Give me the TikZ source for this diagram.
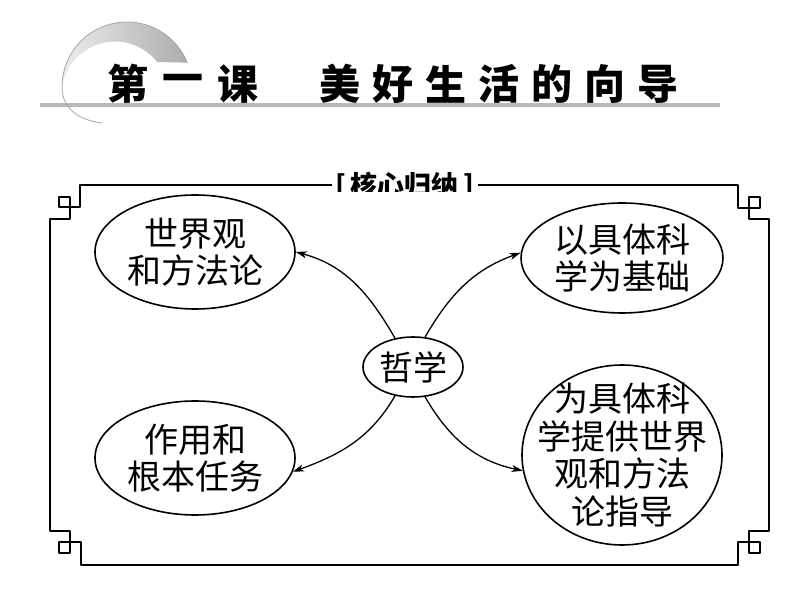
\documentclass[tikz,border=0pt]{standalone}
\usepackage{fontspec}
\setmainfont{Noto Sans CJK SC}
\usepackage{tikz}
\usetikzlibrary{arrows.meta,shapes.geometric}

\tikzset{
  bub/.style={draw,line width=1.6pt,ellipse,inner sep=0pt,align=center,
    font=\fontsize{34}{37.5}\selectfont},
  link/.style={->,line width=1.3pt},
}

\begin{document}
\begin{tikzpicture}[line cap=round,line join=round,>={Stealth[length=11pt,width=7pt,inset=3pt]},x=1pt,y=1pt]
\useasboundingbox (0,0) rectangle (800,600);

% header
\fill[gray!55] (40,493) rectangle (720,497);
\shade[left color=gray!15,right color=gray!65]
  ([shift={(127,513)}]22:65) arc[start angle=22,end angle=180,radius=65]
  -- ([shift={(115,505)}]171.4:53.5) arc[start angle=171.4,end angle=38,radius=53.5] -- cycle;
\draw[gray!70,line width=0.8pt] ([shift={(127,513)}]22:65) arc[start angle=22,end angle=180,radius=65]
  .. controls (62,492) and (78,480) .. (102,477);
\foreach \c/\x in {第/128,一/183,课/238,美/340,好/393,生/446,活/499,的/552,向/605,导/658}
  \node[font=\fontsize{41}{41}\selectfont\bfseries] at (\x,516) {\c};

% frame
\draw[line width=1.2pt] (50,381) -- (70,381) -- (70,403) -- (59,403) -- (59,393) -- (80,393) -- (80,415)
  -- (738,415) -- (738,392) -- (760,392) -- (760,403) -- (749,403) -- (749,381) -- (769,381)
  -- (769,69) -- (749,69) -- (749,47) -- (760,47) -- (760,58) -- (738,58) -- (738,35)
  -- (81,35) -- (81,58) -- (59,58) -- (59,47) -- (70,47) -- (70,69) -- (50,69) -- cycle;
\begin{scope}
\clip (300,408) rectangle (510,440);
\node[fill=white,inner xsep=4pt,font=\fontsize{27}{27}\selectfont\bfseries] (hxgn) at (405,414) {[\,核心归纳\,]};
\end{scope}

% bubbles
\node[bub,minimum width=100pt,minimum height=60pt] (zx) at (413,233) {哲学};
\node[bub,minimum width=200pt,minimum height=114pt] (sjg) at (195,348) {世界观\\和方法论};
\node[bub,minimum width=202pt,minimum height=110pt] (jc) at (622,342) {以具体科\\学为基础};
\node[bub,minimum width=200pt,minimum height=114pt] (zy) at (195,142) {作用和\\根本任务};
\node[bub,minimum width=200pt,minimum height=180pt,inner sep=-15pt] (zd) at (622,145) {为具体科\\学提供世界\\观和方法\\论指导};

% arrows
\draw[link] (zx.122) to[out=120,in=-15] (sjg.east);
\draw[link] (zx.68) to[out=60,in=-160] (jc.177);
\draw[link] (zx.238) to[out=-120,in=20] (zy.-8);
\draw[link] (zx.292) to[out=-60,in=168] (zd.189);
\end{tikzpicture}
\end{document}
